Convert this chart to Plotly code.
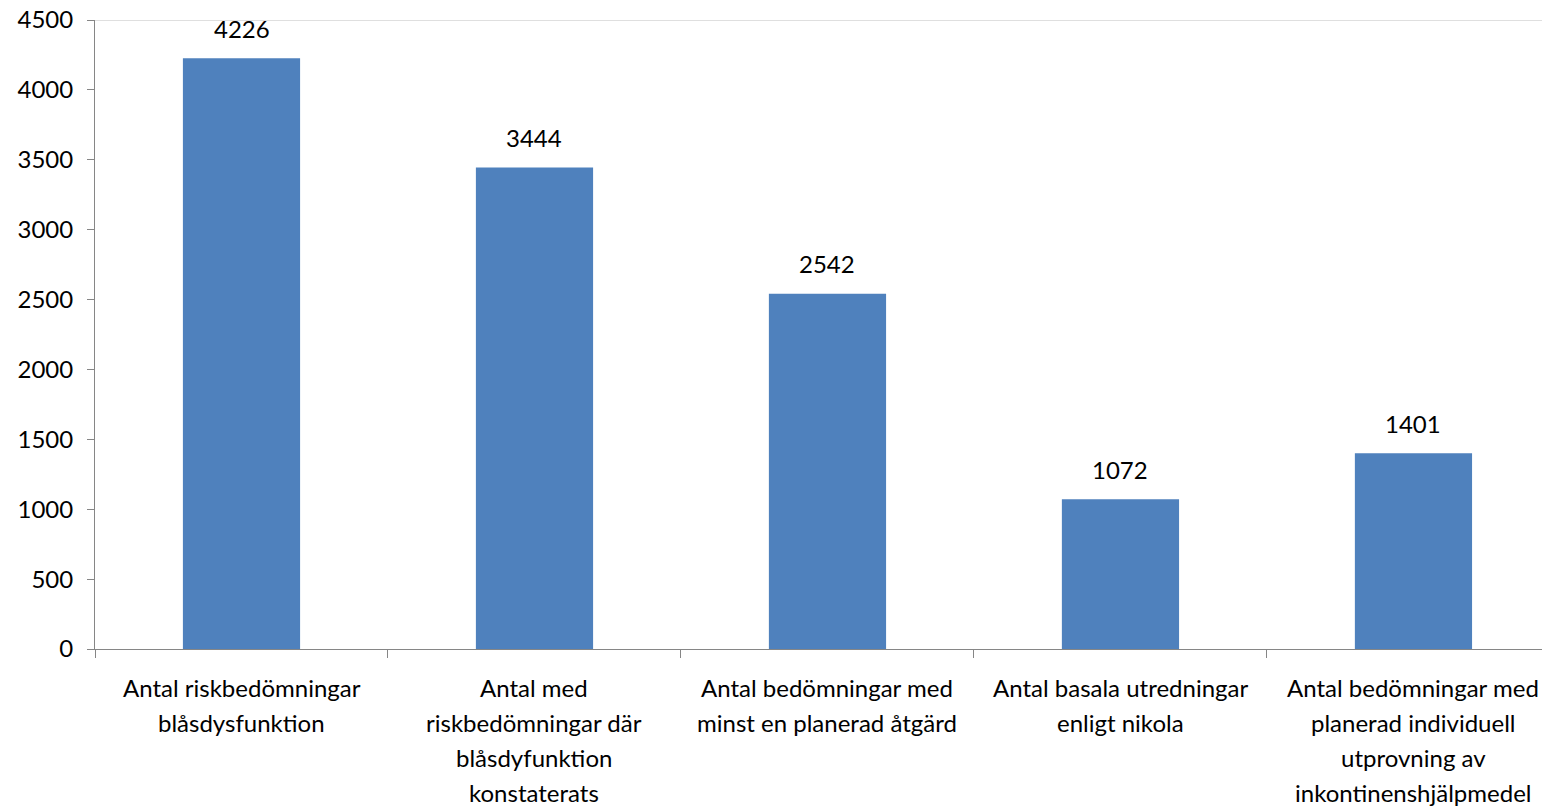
import plotly.graph_objects as go

categories = [
    "Antal riskbedömningar<br>blåsdysfunktion",
    "Antal med<br>riskbedömningar där<br>blåsdyfunktion<br>konstaterats",
    "Antal bedömningar med<br>minst en planerad åtgärd",
    "Antal basala utredningar<br>enligt nikola",
    "Antal bedömningar med<br>planerad individuell<br>utprovning av<br>inkontinenshjälpmedel",
]
values = [4226, 3444, 2542, 1072, 1401]
y_ticks = [0, 500, 1000, 1500, 2000, 2500, 3000, 3500, 4000, 4500]

FONT = "Lato"
FS = 24
fig = go.Figure()
fig.add_trace(go.Bar(
    x=list(range(len(categories))), y=values,
    marker=dict(color="#4F81BD", line=dict(width=0)),
    width=0.4,
))
for i, v in enumerate(values):
    fig.add_annotation(x=i, y=v, text=str(v), showarrow=False, yshift=30,
                       font=dict(family=FONT, size=FS, color="#000"))

# category labels, one annotation per line for Excel-like line spacing
for i, cat in enumerate(categories):
    for j, line in enumerate(cat.split("<br>")):
        fig.add_annotation(x=i, xref="x", y=0, yref="paper", text=line,
                           showarrow=False, yanchor="middle", yshift=-38 - 35 * j,
                           font=dict(family=FONT, size=FS, color="#000"))

fig.add_shape(type="line", xref="paper", yref="y", x0=0, x1=1, y0=4500, y1=4500,
              line=dict(color="#C0C0C0", width=1))

fig.update_layout(
    width=1542, height=799,
    margin=dict(l=87, r=0, t=12, b=158),
    plot_bgcolor="white", paper_bgcolor="white",
    showlegend=False,
    font=dict(family=FONT, size=FS, color="#000"),
    xaxis=dict(
        type="category",
        tickmode="array", tickvals=list(range(len(categories))),
        ticktext=[""] * len(categories),
        range=[-0.5, 4.466],
        showline=True, linecolor="#868686", linewidth=1,
        ticks="outside", ticklen=8, tickcolor="#868686", tickson="boundaries",
        showgrid=False, zeroline=False, automargin=False,
    ),
    yaxis=dict(
        range=[0, 4500], tickvals=y_ticks,
        showline=True, linecolor="#868686", linewidth=1,
        ticks="outside", ticklen=7, tickcolor="#868686",
        ticklabelstandoff=9, ticklabeloverflow="allow",
        showgrid=False, zeroline=False, automargin=False,
        tickfont=dict(family=FONT, size=FS, color="#000"),
    ),
)
fig.write_html("out.html")
